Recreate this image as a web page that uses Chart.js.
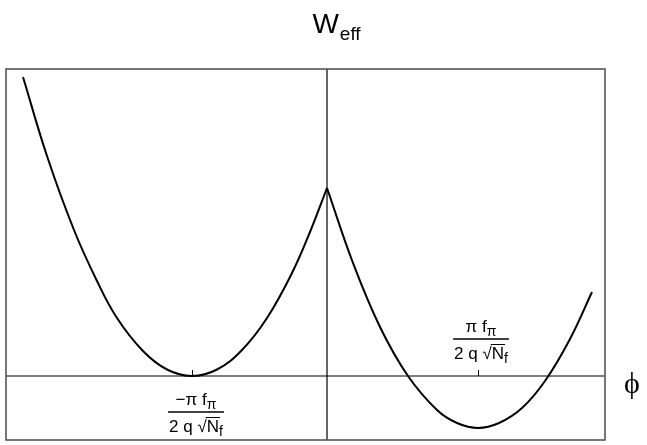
<!DOCTYPE html>
<html>
<head>
<meta charset="utf-8">
<script src="https://cdn.jsdelivr.net/npm/chart.js@4.4.1/dist/chart.umd.min.js"></script>
<style>
  html, body { margin: 0; padding: 0; background: #fff; }
  #wrap { width: 647px; height: 445px; position: relative; }
</style>
</head>
<body>
<div id="wrap"><canvas id="weffCanvas" width="647" height="445"></canvas></div>
<script>
// Effective potential W_eff(phi), two branches meeting at the cusp phi = 0
const phiLeft  = [-3.04, -2.80, -2.53, -2.30, -2.10, -1.84, -1.60, -1.35, -1.10, -0.85, -0.60, -0.35, -0.17, 0.00];
const wLeft    = [ 2.99,  2.20,  1.46,  0.95,  0.58,  0.25,  0.065, 0.00,  0.065, 0.26,  0.58,  1.03,  1.44, 1.88];
const phiRight = [0.00, 0.26, 0.53, 0.81, 1.10, 1.30, 1.51, 1.72, 1.95, 2.18, 2.43, 2.65];
const wRight   = [1.88, 1.13, 0.49, 0.00, -0.34, -0.47, -0.52, -0.47, -0.32, -0.05, 0.37, 0.84];

// minima marked on the phi axis
const tickPhi = [-1.35, 1.51];
const tickNum = [["\u2212\u03C0 f", "\u03C0"], ["\u03C0 f", "\u03C0"]];
const tickDen = ["2 q \u221A", "N", "f"];

const titleMain = "W";
const titleSub = "eff";
const axisLabel = "\u03D5";

const toPts = (xs, ys) => xs.map((x, i) => ({ x: x, y: ys[i] }));

const framePlugin = {
  id: "frame",
  afterDatasetsDraw(chart) {
    const { ctx, chartArea: a, scales } = chart;
    const x0 = scales.x.getPixelForValue(0);
    const y0 = scales.y.getPixelForValue(0);
    ctx.save();

    // axes through the origin
    ctx.strokeStyle = "#000";
    ctx.lineWidth = 1.2;
    ctx.beginPath();
    ctx.moveTo(a.left, y0); ctx.lineTo(a.right, y0);
    ctx.moveTo(x0, a.top); ctx.lineTo(x0, a.bottom);
    ctx.stroke();

    // outer box
    ctx.strokeStyle = "#555";
    ctx.lineWidth = 1.6;
    ctx.strokeRect(a.left, a.top, a.right - a.left, a.bottom - a.top);

    // small ticks at the minima
    ctx.strokeStyle = "#000";
    ctx.lineWidth = 1;
    tickPhi.forEach(p => {
      const px = Math.round(scales.x.getPixelForValue(p)) + 0.5;
      ctx.beginPath();
      ctx.moveTo(px, y0); ctx.lineTo(px, y0 - 6);
      ctx.stroke();
    });

    // fraction labels: left one below the axis, right one above
    ctx.fillStyle = "#000";
    tickPhi.forEach((p, i) => {
      const cx = scales.x.getPixelForValue(p) + (i === 0 ? 4 : 3);
      const barY = i === 0 ? y0 + 36 : y0 - 37;
      drawFraction(ctx, cx, barY, tickNum[i]);
    });

    // title W_eff
    ctx.textBaseline = "alphabetic";
    ctx.textAlign = "left";
    ctx.font = "28px 'Liberation Sans', Arial, sans-serif";
    const wW = ctx.measureText(titleMain).width;
    ctx.font = "19px 'Liberation Sans', Arial, sans-serif";
    const wS = ctx.measureText(titleSub).width;
    let tx = 336 - (wW + wS) / 2;
    ctx.font = "28px 'Liberation Sans', Arial, sans-serif";
    ctx.fillText(titleMain, tx, 33);
    ctx.font = "19px 'Liberation Sans', Arial, sans-serif";
    ctx.fillText(titleSub, tx + wW + 1, 40);

    // phi axis label
    ctx.font = "30px 'Liberation Serif', 'DejaVu Serif', serif";
    ctx.textAlign = "center";
    ctx.fillText(axisLabel, 632, 393);
    ctx.restore();
  }
};

function drawFraction(ctx, cx, barY, num) {
  const big = "17px 'Liberation Sans', Arial, sans-serif";
  const small = "14px 'Liberation Sans', Arial, sans-serif";
  // numerator: text with subscript pi
  ctx.font = big;
  const n1 = ctx.measureText(num[0]).width;
  ctx.font = small;
  const n2 = ctx.measureText(num[1]).width;
  let x = cx - (n1 + n2) / 2;
  ctx.textAlign = "left";
  ctx.textBaseline = "alphabetic";
  ctx.font = big;
  ctx.fillText(num[0], x, barY - 7);
  ctx.font = small;
  ctx.fillText(num[1], x + n1, barY - 3);

  // denominator: 2 q sqrt(N_f)
  ctx.font = big;
  const d1 = ctx.measureText(tickDen[0]).width;
  const d2 = ctx.measureText(tickDen[1]).width;
  ctx.font = small;
  const d3 = ctx.measureText(tickDen[2]).width;
  const dw = d1 + d2 + d3;
  x = cx - dw / 2;
  ctx.font = big;
  ctx.fillText(tickDen[0], x, barY + 20);
  ctx.fillText(tickDen[1], x + d1, barY + 20);
  ctx.font = small;
  ctx.fillText(tickDen[2], x + d1 + d2, barY + 24);
  // radical overbar
  ctx.lineWidth = 1;
  ctx.beginPath();
  ctx.moveTo(x + d1 - 1, barY + 5.5);
  ctx.lineTo(x + d1 + d2 + 1, barY + 5.5);
  ctx.stroke();

  // fraction bar
  const half = Math.max(n1 + n2, dw) / 2 + 1;
  ctx.lineWidth = 1.3;
  ctx.beginPath();
  ctx.moveTo(cx - half, barY);
  ctx.lineTo(cx + half, barY);
  ctx.stroke();
}

const curveStyle = {
  showLine: true,
  borderColor: "#000",
  borderWidth: 2,
  pointRadius: 0,
  tension: 0.4,
  fill: false
};

new Chart(document.getElementById("weffCanvas").getContext("2d"), {
  type: "scatter",
  data: {
    datasets: [
      Object.assign({ label: "left", data: toPts(phiLeft, wLeft) }, curveStyle),
      Object.assign({ label: "right", data: toPts(phiRight, wRight) }, curveStyle)
    ]
  },
  options: {
    responsive: false,
    animation: false,
    layout: { padding: { left: 6, top: 69, right: 42, bottom: 5 } },
    plugins: {
      legend: { display: false },
      tooltip: { enabled: false }
    },
    scales: {
      x: { type: "linear", min: -3.21, max: 2.78, display: false },
      y: { type: "linear", min: -0.64, max: 3.07, display: false }
    }
  },
  plugins: [framePlugin]
});
</script>
</body>
</html>
